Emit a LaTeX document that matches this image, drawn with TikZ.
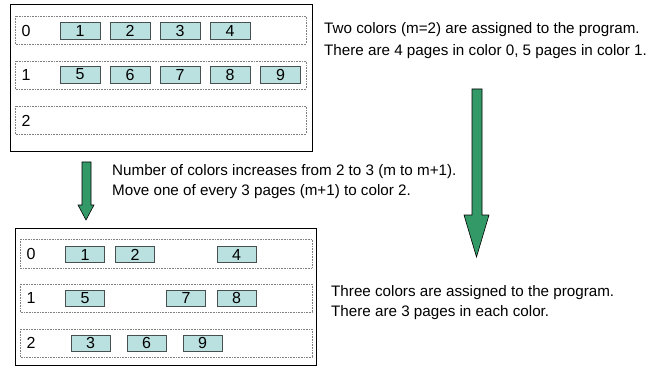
\documentclass[tikz,border=0pt]{standalone}
\usepackage{fontspec}
\setmainfont{Liberation Sans}
\definecolor{pagefill}{RGB}{186,224,224}
\definecolor{pageline}{RGB}{70,80,80}
\definecolor{arrowgreen}{RGB}{51,153,102}
\begin{document}
\begin{tikzpicture}[x=1pt,y=-1pt,
  outerbox/.style={draw=black,line width=0.8pt},
  rowbox/.style={draw=gray,densely dotted,line width=0.6pt},
  pagebox/.style={draw=pageline,fill=pagefill,line width=0.9pt,minimum width=40pt,minimum height=17pt,inner sep=0pt,font=\fontsize{16}{16}\selectfont},
  rowlabel/.style={font=\fontsize{16}{16}\selectfont,inner sep=0pt},
  note/.style={font=\fontsize{15.2}{15.2}\selectfont,anchor=west,inner sep=0pt},
  greenarrow/.style={draw=black,fill=arrowgreen,line width=0.6pt}]
\useasboundingbox (0,0) rectangle (656,377);
% top box
\draw[outerbox] (10,4) rectangle (312,151);
\draw[rowbox] (15,16) rectangle (306,44);
\draw[rowbox] (15,61) rectangle (306,89);
\draw[rowbox] (15,106) rectangle (306,134);
\node[rowlabel] (t0) at (26,31) {0};
\node[rowlabel] (t1) at (26,75) {1};
\node[rowlabel] (t2) at (26,121) {2};
\node[pagebox] (a1) at (80,30.5) {1};
\node[pagebox] (a2) at (130,30.5) {2};
\node[pagebox] (a3) at (180,30.5) {3};
\node[pagebox] (a4) at (230,30.5) {4};
\node[pagebox] (a5) at (80,74.5) {5};
\node[pagebox] (a6) at (130,74.5) {6};
\node[pagebox] (a7) at (180,74.5) {7};
\node[pagebox] (a8) at (230,74.5) {8};
\node[pagebox] (a9) at (280.5,74.5) {9};
% bottom box
\draw[outerbox] (15,228) rectangle (316,365);
\draw[rowbox] (20,239) rectangle (312,268);
\draw[rowbox] (20,284) rectangle (312,312);
\draw[rowbox] (20,329) rectangle (312,357);
\node[rowlabel] (b0) at (31,254) {0};
\node[rowlabel] (b1) at (31,298) {1};
\node[rowlabel] (b2) at (31,343) {2};
\node[pagebox,minimum width=39pt,minimum height=16pt] (c1) at (85,254.5) {1};
\node[pagebox,minimum width=39pt,minimum height=16pt] (c2) at (135,254.5) {2};
\node[pagebox,minimum width=39pt,minimum height=16pt] (c4) at (236.5,254.5) {4};
\node[pagebox,minimum width=39pt,minimum height=16pt] (c5) at (85,298) {5};
\node[pagebox,minimum width=39pt,minimum height=16pt] (c7) at (186,298) {7};
\node[pagebox,minimum width=39pt,minimum height=16pt] (c8) at (236.5,298) {8};
\node[pagebox,minimum width=39pt,minimum height=16pt] (c3) at (90.5,343) {3};
\node[pagebox,minimum width=39pt,minimum height=16pt] (c6) at (146.5,343) {6};
\node[pagebox,minimum width=39pt,minimum height=16pt] (c9) at (202.5,343) {9};
% texts
\node[note] (n1) at (324,30) {Two colors (m=2) are assigned to the program.};
\node[note] (n2) at (324,52) {There are 4 pages in color 0, 5 pages in color 1.};
\node[note] (n3) at (112,172) {Number of colors increases from 2 to 3 (m to m+1).};
\node[note] (n4) at (112,192) {Move one of every 3 pages (m+1) to color 2.};
\node[note] (n5) at (331,293) {Three colors are assigned to the program.};
\node[note] (n6) at (331,313) {There are 3 pages in each color.};
% arrows
\draw[greenarrow] (472,89) -- (482,89) -- (482,215) -- (489,215) -- (476.5,257) -- (464,215) -- (472,215) -- cycle;
\draw[greenarrow] (82,162) -- (91,162) -- (91,205) -- (94,205) -- (86,220) -- (78,205) -- (82,205) -- cycle;
\end{tikzpicture}
\end{document}
